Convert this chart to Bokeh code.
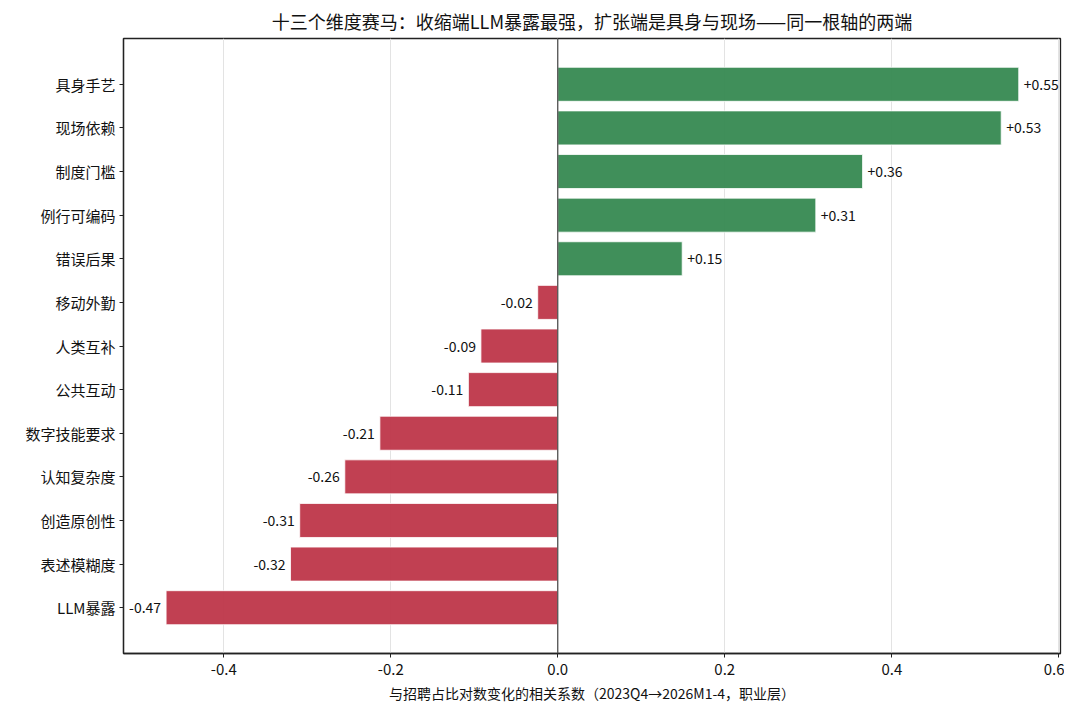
from bokeh.plotting import figure
from bokeh.models import ColumnDataSource, Range1d, FixedTicker, Span
from bokeh.embed import file_html
from bokeh.resources import INLINE
from bokeh.core.properties import value

# data (bottom to top)
categories = ["LLM暴露", "表述模糊度", "创造原创性", "认知复杂度", "数字技能要求", "公共互动",
              "人类互补", "移动外勤", "错误后果", "例行可编码", "制度门槛", "现场依赖", "具身手艺"]
values = [-0.469, -0.320, -0.309, -0.255, -0.213, -0.107, -0.092, -0.024, 0.149, 0.309, 0.365, 0.531, 0.552]
labels = ["-0.47", "-0.32", "-0.31", "-0.26", "-0.21", "-0.11", "-0.09", "-0.02", "+0.15", "+0.31", "+0.36", "+0.53", "+0.55"]
x_ticks = [-0.4, -0.2, 0.0, 0.2, 0.4, 0.6]
x_tick_labels = ["-0.4", "-0.2", "0.0", "0.2", "0.4", "0.6"]

FONT = "Noto Sans CJK SC"
GREEN = "#3a8b55"
RED = "#bf3a4c"

idx = list(range(len(categories)))
colors = [GREEN if v > 0 else RED for v in values]
lx = [v + 0.006 if v > 0 else v - 0.006 for v in values]
align = ["left" if v > 0 else "right" for v in values]

src = ColumnDataSource(dict(y=idx, v=values, c=colors, lab=labels, lx=lx, al=align))

p = figure(width=1064, height=705, output_backend="svg", toolbar_location=None,
           x_range=Range1d(-0.52, 0.602), y_range=Range1d(-1.05, 13.05),
           min_border_left=123, min_border_right=4, min_border_bottom=50, min_border_top=10)

p.title.text = "十三个维度赛马：收缩端LLM暴露最强，扩张端是具身与现场——同一根轴的两端"
p.title.align = "center"
p.title.text_font = FONT
p.title.text_font_size = "18px"
p.title.text_font_style = "normal"
p.title.text_color = "#111111"
p.title.offset = 0

p.hbar(y="y", left=0, right="v", height=0.78, fill_color="c", fill_alpha=0.97,
       line_color="white", line_width=0.8, source=src)

p.add_layout(Span(location=0, dimension="height", line_color="#444444", line_width=1.2))

p.text(x="lx", y="y", text="lab", text_align="al", text_baseline="middle",
       text_font=value(FONT), text_font_size="14px", text_color="#111111", source=src)

p.xgrid.grid_line_color = "#e3e3e3"
p.xgrid.grid_line_width = 1
p.ygrid.grid_line_color = None
p.xaxis.ticker = FixedTicker(ticks=x_ticks)
p.xaxis.major_label_overrides = {t: s for t, s in zip(x_ticks, x_tick_labels)}
p.yaxis.ticker = FixedTicker(ticks=idx)
p.yaxis.major_label_overrides = {i: c for i, c in enumerate(categories)}
p.yaxis.minor_tick_line_color = None
p.xaxis.minor_tick_line_color = None

for ax in (p.xaxis[0], p.yaxis[0]):
    ax.axis_line_color = "#222222"
    ax.axis_line_width = 1.3
    ax.major_tick_line_color = "#222222"
    ax.major_tick_out = 4
    ax.major_tick_in = 0
    ax.major_label_text_font = FONT
    ax.major_label_text_font_size = "15px"
    ax.major_label_text_color = "#111111"

p.xaxis.axis_label = "与招聘占比对数变化的相关系数（2023Q4→2026M1-4，职业层）"
p.xaxis.axis_label_text_font = FONT
p.xaxis.axis_label_text_font_size = "14px"
p.xaxis.axis_label_text_font_style = "normal"
p.xaxis.axis_label_text_color = "#111111"
p.xaxis.axis_label_standoff = 5
p.xaxis.major_label_standoff = 6
p.yaxis.major_label_standoff = 4

p.outline_line_color = "#222222"
p.outline_line_width = 1.3
p.background_fill_color = "white"
p.border_fill_color = "white"

open("out.html", "w").write(file_html(p, INLINE))
